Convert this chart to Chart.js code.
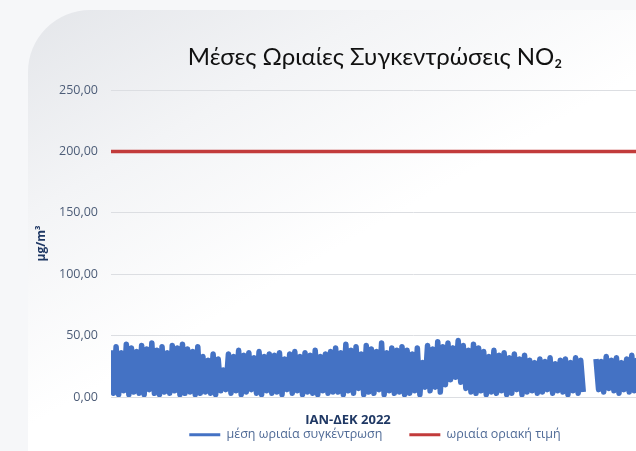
<!DOCTYPE html>
<html>
<head>
<meta charset="utf-8">
<script src="https://cdn.jsdelivr.net/npm/chart.js@4/dist/chart.umd.min.js"></script>
<style>
  html, body { margin: 0; padding: 0; width: 636px; height: 451px; overflow: hidden; background: #f6f7f9; }
  #card { position: absolute; left: 28px; top: 10px; width: 740px; height: 500px; border-top-left-radius: 62px;
          background: linear-gradient(150deg, #e4e6ea 0%, #f3f4f6 22%, #ffffff 45%, #ffffff 100%); }
  #wrap { position: absolute; left: 0; top: 0; width: 716px; height: 451px; }
</style>
</head>
<body>
<div id="card"></div>
<div id="wrap"><canvas id="c" width="716" height="451"></canvas></div>
<script>
// Hourly concentration series, read as alternating peak / trough values across the year (μg/m³)
const hourlyValues = [
  38,3, 41,2, 36,5, 43,2, 40,4, 37,3, 42,2, 39,6, 44,3, 38,2, 41,4, 36,3, 42,5, 40,2, 43,3, 39,4, 37,2, 41,3,
  33,4, 30,3, 35,2, 31,5,
  22,6,
  35,3, 33,5, 38,2, 34,4, 36,6, 32,3, 37,2, 33,5, 35,3, 34,4, 36,2, 31,6, 35,3, 37,5, 33,2, 36,4, 34,3, 38,2, 33,5, 35,3, 37,4,
  40,4, 36,2, 43,5, 38,3, 41,7, 35,2, 42,4, 39,3, 37,6, 44,2, 36,5, 40,3, 38,4, 41,2,
  38,3, 35,5, 40,2, 28,8,
  42,5, 39,8, 45,4, 41,10, 44,14, 40,16, 46,12, 42,7, 38,4, 43,3, 40,5,
  37,2, 33,4, 38,3, 34,5, 36,2, 32,3, 35,6, 31,2, 34,4,
  30,5, 28,3, 31,4, 29,6, 32,3, 27,5, 30,4, 31,2, 28,5, 32,3, 30,4,
  null,null, null,null,
  31,6, 29,4, 33,7, 30,5, 32,3, 28,6, 31,4, 34,5, 30,7, 29,3, 32,5, 31,4, 33,6, 28,3, 30,5, 32,4, 29,6, 31,5, 33,3, 30,4, 32,5, 29,4, 31,6, 30,3
];
const hourLabels = hourlyValues.map((v, i) => 'h' + (i + 1));
const limitValue = 200;
const limitValues = hourLabels.map(() => limitValue);
const yTicks = [0, 50, 100, 150, 200, 250];
const seriesNames = ['μέση ωριαία συγκέντρωση', 'ωριαία οριακή τιμή'];
const chartTitle = 'Μέσες Ωριαίες Συγκεντρώσεις NO₂';
const xTitle = 'ΙΑΝ-ΔΕΚ 2022';
const yTitle = 'μg/m³';

// x-axis title, drawn under the visible part of the axis
const xTitlePlugin = {
  id: 'xTitle',
  afterDraw(chart) {
    const ctx = chart.ctx;
    const area = chart.chartArea;
    ctx.save();
    ctx.font = 'bold 13px "Open Sans"';
    ctx.fillStyle = '#1f3864';
    ctx.textAlign = 'center';
    ctx.textBaseline = 'middle';
    ctx.fillText(xTitle, area.left + 237, area.bottom + 23);
    ctx.restore();
  }
};

new Chart(document.getElementById('c'), {
  type: 'line',
  data: {
    labels: hourLabels,
    datasets: [
      { label: seriesNames[0], data: hourlyValues, borderColor: '#4472c4', backgroundColor: '#4472c4',
        borderWidth: 5.5, borderJoinStyle: 'round', pointRadius: 0, tension: 0, spanGaps: false,
        clip: { left: 0, top: 4, right: 0, bottom: 0 } },
      { label: seriesNames[1], data: limitValues, borderColor: '#c23b3b', backgroundColor: '#c23b3b',
        borderWidth: 3.5, pointRadius: 0 }
    ]
  },
  plugins: [xTitlePlugin],
  options: {
    responsive: false,
    animation: false,
    devicePixelRatio: 1,
    layout: { padding: { top: 42.6, left: 34, right: 0, bottom: 0 } },
    plugins: {
      title: { display: true, text: chartTitle, color: '#111111',
        font: { family: 'Lato', size: 24, weight: 'normal' }, padding: { top: 0, bottom: 18.6 } },
      legend: { position: 'bottom', labels: { color: '#4f6a96', boxWidth: 31, boxHeight: 3,
        font: { family: 'Open Sans', size: 12.5 }, padding: 27,
        generateLabels: (chart) => Chart.defaults.plugins.legend.labels.generateLabels(chart)
          .map(item => Object.assign(item, { lineWidth: 0, fillStyle: item.strokeStyle })) } },
      tooltip: { enabled: false }
    },
    scales: {
      x: {
        grid: { display: false },
        border: { display: false },
        ticks: { display: false },
        afterFit: (s) => { s.height = 4.5; }
      },
      y: {
        min: 0, max: 250,
        afterBuildTicks: (s) => { s.ticks = yTicks.map(v => ({ value: v })); },
        afterFit: (s) => { s.width = 77; },
        grid: { color: '#dcdee2', lineWidth: 1, drawTicks: false },
        border: { display: false },
        ticks: { color: '#4d5d78', padding: 13, font: { family: 'Open Sans', size: 12.5 },
          callback: (v) => v.toFixed(2).replace('.', ',') },
        title: { display: true, text: yTitle, color: '#1f3864', font: { family: 'Open Sans', size: 12, weight: 'bold' }, padding: 0 }
      }
    }
  }
});
</script>
</body>
</html>
